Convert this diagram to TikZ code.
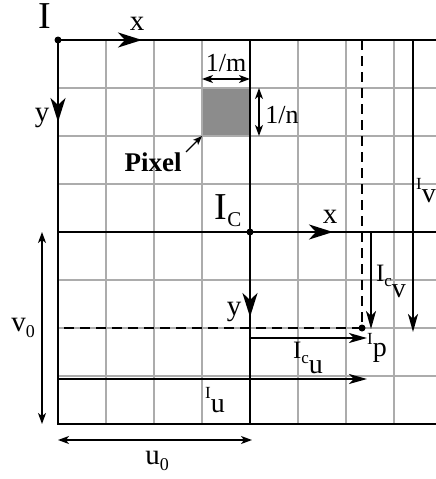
\documentclass[tikz,border=0pt]{standalone}
\usepackage{fontspec}
\setmainfont{Liberation Serif}
\usetikzlibrary{arrows.meta}
\definecolor{gridgray}{RGB}{172,172,172}
\definecolor{pixelgray}{RGB}{140,140,140}
\newcommand{\fs}[1]{\fontsize{#1}{#1}\selectfont}
\newcommand{\supI}{{\fs{17}I}}
\newcommand{\supIc}{{\fs{25}I\raisebox{-5pt}{\fs{17}c}}}
\newcommand{\inframe}[3]{#1\raisebox{-#2}{\fs{28}#3}}

\begin{document}
\begin{tikzpicture}[x=1pt,y=-1pt,
    gridline/.style={gridgray, line width=1.3pt},
    frameline/.style={line width=1.6pt},
    guide/.style={line width=1.6pt, dash pattern=on 10pt off 6pt},
    axis/.style={line width=2.6pt, -{Stealth[length=24pt,width=15pt,inset=7pt]}},
    coord/.style={line width=2pt, -{Stealth[length=18pt,width=10pt,inset=5pt]}},
    dimen/.style={line width=1.4pt, {Stealth[length=11pt,width=8pt,inset=3pt]}-{Stealth[length=11pt,width=8pt,inset=3pt]}},
    lbl/.style={font=\fs{29}, inner sep=0pt},
    biglbl/.style={font=\fs{38}, inner sep=0pt}]
    \useasboundingbox (0,0) rectangle (436,479);

    % Pixel
    \fill[pixelgray] (202,88) rectangle (250,136);

    % Grid
    \foreach \gx in {106,154,202,298,346,394}
        \draw[gridline] (\gx,40) -- (\gx,424);
    \foreach \gy in {88,136,184,280,328,376}
        \draw[gridline] (58,\gy) -- (436,\gy);

    % Frames
    \coordinate (I) at (58,40);
    \coordinate (Ic) at (250,232);
    \coordinate (P) at (362,328);
    \draw[frameline] (436,40) -- (I) -- (58,424) -- (436,424);
    \draw[frameline] (250,40) -- (250,424);
    \draw[frameline] (58,232) -- (436,232);

    % Point p
    \draw[guide] (362,40) -- (P) -- (58,328);
    \fill (P) circle (3.5pt);

    % Image frame I
    \fill (I) circle (3.5pt);
    \draw[axis] (I) -- (142,40);
    \draw[axis] (I) -- (58,122);
    \node[biglbl] (Ilbl) at (45,16) {I};
    \node[lbl] (Ix) at (137,24) {x};
    \node[lbl] (Iy) at (42,118) {y};

    % Centre frame I_C
    \fill (Ic) circle (3.5pt);
    \draw[axis] (Ic) -- (333,232);
    \draw[axis] (Ic) -- (250,317);
    \node[biglbl] (Iclbl) at (228,211) {I\raisebox{-7pt}{\fs{21}C}};
    \node[lbl] (Icx) at (330,217) {x};
    \node[lbl] (Icy) at (234,312) {y};

    % Coordinates of p
    \draw[coord] (371,232) -- (371,329);
    \draw[coord] (413,40) -- (413,332);
    \draw[coord] (Ic |- 0,338) -- (367,338);
    \draw[coord] (58,379) -- (367,379);
    \node[lbl] (Iv) at (426,191) {\inframe{\supI}{13pt}{v}};
    \node[lbl] (Icv) at (391,281) {\inframe{\supIc}{16pt}{v}};
    \node[lbl] (Icu) at (308,358) {\inframe{\supIc}{15pt}{u}};
    \node[lbl] (Iu) at (215,400) {\inframe{\supI}{14pt}{u}};
    \node[lbl] (Ip) at (377,348) {\inframe{\supI}{12pt}{p}};

    % Pixel size
    \draw[dimen] (202,79) -- (250,79);
    \draw[dimen] (259,88) -- (259,136);
    \node[font=\fs{26}, inner sep=0pt] (m) at (226,63) {1/m};
    \node[font=\fs{26}, inner sep=0pt] (n) at (282,115) {1/n};
    \node[font=\fs{27}\bfseries, inner sep=0pt] (pix) at (153,162) {Pixel};
    \draw[line width=1.3pt, -{Stealth[length=9pt,width=7pt,inset=2pt]}] (186,152) -- (202,136);

    % Offsets u0, v0
    \draw[dimen] (42,232) -- (42,424);
    \draw[dimen] (58,440) -- (252,440);
    \node[lbl] (v0) at (23,328) {v\raisebox{-6pt}{\fs{18}0}};
    \node[lbl] (u0) at (157,461) {u\raisebox{-6pt}{\fs{18}0}};
\end{tikzpicture}
\end{document}
